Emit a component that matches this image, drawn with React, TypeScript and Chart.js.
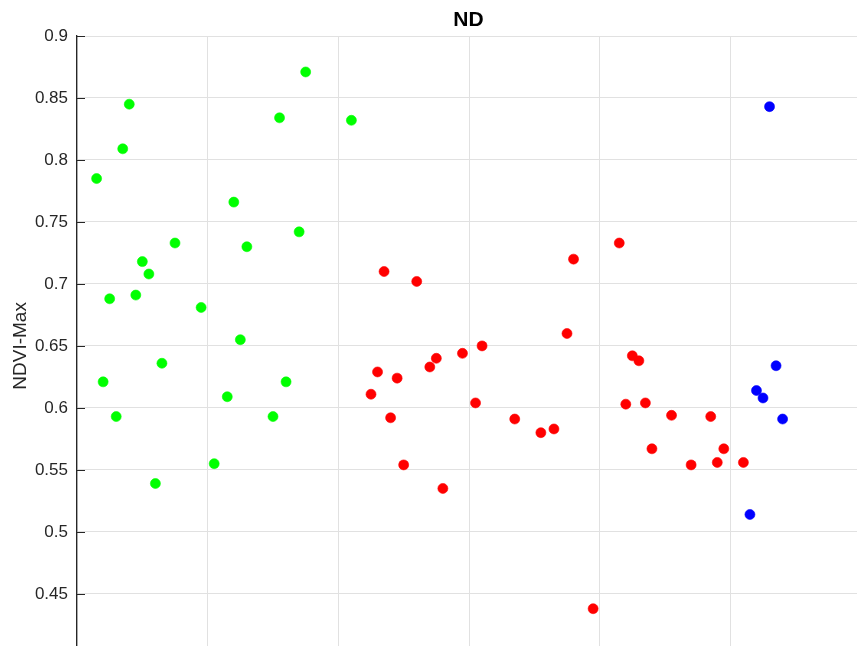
import React, { useEffect, useRef } from "react";
import { Chart, registerables } from "chart.js";

Chart.register(...registerables);

const chartTitle = "ND";
const yLabel = "NDVI-Max";

const greenX = [3, 4, 5, 6, 7, 8, 9, 10, 11, 12, 13, 15, 19, 21, 23, 24, 25, 26, 30, 31, 32, 34, 35, 42];
const greenY = [0.785, 0.621, 0.688, 0.593, 0.809, 0.845, 0.691, 0.718, 0.708, 0.539, 0.636, 0.733, 0.681, 0.555, 0.609, 0.766, 0.655, 0.730, 0.593, 0.834, 0.621, 0.742, 0.871, 0.832];

const redX = [45, 46, 47, 48, 49, 50, 52, 54, 55, 56, 59, 61, 62, 67, 71, 73, 75, 76, 79, 83, 84, 85, 86, 87, 88, 91, 94, 97, 98, 99, 102];
const redY = [0.611, 0.629, 0.710, 0.592, 0.624, 0.554, 0.702, 0.633, 0.640, 0.535, 0.644, 0.604, 0.650, 0.591, 0.580, 0.583, 0.660, 0.720, 0.438, 0.733, 0.603, 0.642, 0.638, 0.604, 0.567, 0.594, 0.554, 0.593, 0.556, 0.567, 0.556];

const blueX = [103, 104, 105, 106, 107, 108];
const blueY = [0.514, 0.614, 0.608, 0.843, 0.634, 0.591];

const xMin = 0;
const xMax = 120;
const xStep = 20;
const yMin = 0.4;
const yMax = 0.9;
const yStep = 0.05;

const toPoints = (xs: number[], ys: number[]) => xs.map((x, i) => ({ x, y: ys[i] }));

const FONT = "'Liberation Sans', Arial, Helvetica, sans-serif";
const TEXT = "#262626";
const GRID = "#e1e1e1";

// Inward tick marks on the y axis (MATLAB style), placed via the y scale
const inwardTicks = {
  id: "inwardTicks",
  afterDraw(chart: any) {
    const y = chart.scales.y;
    const ctx = chart.ctx;
    const left = chart.chartArea.left;
    ctx.save();
    ctx.strokeStyle = TEXT;
    ctx.lineWidth = 1;
    y.ticks.forEach((t: any) => {
      const py = Math.round(y.getPixelForValue(t.value)) + 0.5;
      ctx.beginPath();
      ctx.moveTo(left, py);
      ctx.lineTo(left + 8, py);
      ctx.stroke();
    });
    ctx.restore();
  },
};

export default function App() {
  const ref = useRef<HTMLCanvasElement | null>(null);

  useEffect(() => {
    if (!ref.current) return;
    const mk = (data: { x: number; y: number }[], color: string) => ({
      data,
      backgroundColor: color,
      borderColor: color,
      pointRadius: 5,
      pointBorderWidth: 0.6,
      pointHoverRadius: 5,
    });
    const chart = new Chart(ref.current, {
      type: "scatter",
      data: {
        datasets: [
          mk(toPoints(greenX, greenY), "#00ff00"),
          mk(toPoints(redX, redY), "#ff0000"),
          mk(toPoints(blueX, blueY), "#0000ff"),
        ],
      },
      plugins: [inwardTicks],
      options: {
        responsive: false,
        animation: false,
        events: [],
        layout: { padding: { left: 0, right: 0, top: 0, bottom: 1 } },
        plugins: {
          legend: { display: false },
          tooltip: { enabled: false },
          title: {
            display: true,
            text: chartTitle,
            color: "#000000",
            font: { family: FONT, size: 21, weight: "bold", lineHeight: 1.2 },
            padding: { top: 7.4, bottom: 3.4 },
          },
        },
        scales: {
          x: {
            type: "linear",
            min: xMin,
            max: xMax,
            ticks: { display: false, stepSize: xStep },
            grid: { color: GRID, lineWidth: 1, drawTicks: false },
            border: { display: false },
          },
          y: {
            type: "linear",
            position: "left",
            min: yMin,
            max: yMax,
            ticks: {
              stepSize: yStep,
              color: TEXT,
              padding: 9,
              font: { family: FONT, size: 17 },
              callback: (v: any) => String(parseFloat(Number(v).toFixed(2))),
            },
            grid: { color: GRID, lineWidth: 1, drawTicks: false },
            border: { display: true, color: TEXT, width: 1.3 },
            title: {
              display: true,
              text: yLabel,
              color: TEXT,
              font: { family: FONT, size: 19, lineHeight: 1.2 },
              padding: { top: 9.4, bottom: 0 },
            },
            afterFit: (scale: any) => {
              scale.width = 77;
            },
          },
          y2: {
            type: "linear",
            position: "right",
            display: true,
            ticks: { display: false },
            grid: { display: false, drawTicks: false },
            border: { display: false },
            afterFit: (scale: any) => {
              scale.width = 76;
            },
          },
        },
      } as any,
    });
    return () => chart.destroy();
  }, []);

  return (
    <div
      style={{
        position: "fixed",
        left: 0,
        top: 0,
        width: 857,
        height: 646,
        overflow: "hidden",
        background: "#ffffff",
      }}
    >
      <canvas ref={ref} width={937} height={675} style={{ display: "block", width: 937, height: 675 }} />
    </div>
  );
}
